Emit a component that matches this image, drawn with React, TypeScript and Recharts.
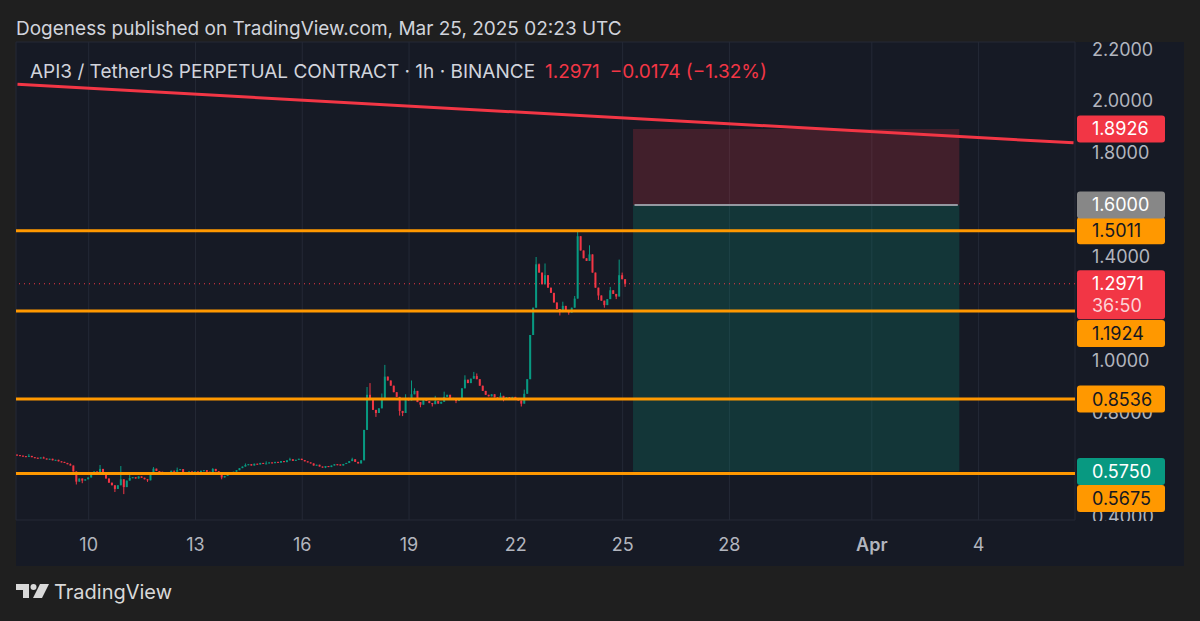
import React from 'react';
import {
  ComposedChart,
  Bar,
  XAxis,
  YAxis,
  CartesianGrid,
  ReferenceLine,
  ReferenceArea,
} from 'recharts';

// 2h candles, API3/USDT perp, Mar 8 00:00 UTC onward (closes per day)
const mar08 = [0.638, 0.636, 0.634, 0.632, 0.635, 0.630, 0.628, 0.626, 0.629, 0.625, 0.622, 0.624];
const mar09 = [0.618, 0.620, 0.614, 0.612, 0.608, 0.603, 0.598, 0.575, 0.536, 0.548, 0.540, 0.545];
const mar10 = [0.552, 0.566, 0.575, 0.568, 0.585, 0.572, 0.548, 0.532, 0.522, 0.508, 0.522, 0.545];
const mar11 = [0.515, 0.540, 0.550, 0.553, 0.548, 0.556, 0.551, 0.545, 0.541, 0.566, 0.586, 0.577];
const mar12 = [0.574, 0.570, 0.566, 0.572, 0.578, 0.574, 0.580, 0.584, 0.572, 0.569, 0.575, 0.571];
const mar13 = [0.575, 0.572, 0.578, 0.580, 0.574, 0.570, 0.585, 0.576, 0.565, 0.552, 0.558, 0.562];
const mar14 = [0.568, 0.574, 0.580, 0.588, 0.594, 0.600, 0.603, 0.598, 0.605, 0.602, 0.608, 0.604];
const mar15 = [0.606, 0.610, 0.607, 0.612, 0.609, 0.615, 0.611, 0.618, 0.622, 0.616, 0.620, 0.624];
const mar16 = [0.619, 0.614, 0.610, 0.606, 0.598, 0.601, 0.594, 0.590, 0.596, 0.592, 0.598, 0.603];
const mar17 = [0.602, 0.598, 0.604, 0.608, 0.615, 0.622, 0.612, 0.606, 0.618, 0.735, 0.870, 0.850];
const mar18 = [0.812, 0.800, 0.818, 0.850, 0.940, 0.925, 0.905, 0.880, 0.862, 0.808, 0.800, 0.858];
const mar19 = [0.848, 0.872, 0.885, 0.842, 0.832, 0.852, 0.846, 0.838, 0.834, 0.846, 0.836, 0.843];
const mar20 = [0.862, 0.870, 0.858, 0.852, 0.846, 0.852, 0.895, 0.928, 0.915, 0.932, 0.942, 0.930];
const mar21 = [0.905, 0.885, 0.870, 0.864, 0.872, 0.860, 0.857, 0.866, 0.855, 0.861, 0.852, 0.862];
const mar22 = [0.856, 0.848, 0.836, 0.874, 0.930, 1.100, 1.205, 1.372, 1.340, 1.295, 1.330, 1.282];
const mar23 = [1.262, 1.225, 1.200, 1.188, 1.212, 1.195, 1.186, 1.205, 1.240, 1.480, 1.425, 1.395];
const mar24 = [1.385, 1.410, 1.340, 1.282, 1.252, 1.232, 1.215, 1.238, 1.272, 1.258, 1.248, 1.330];
const mar25 = [1.3145, 1.2971];

const firstOpen = 0.640;

// [slot, price] wick extremes
const wickHighs: [number, number][] = [
  [4, 0.642], [9, 0.632], [18, 0.606], [28, 0.600], [35, 0.596], [38, 0.562], [46, 0.592],
  [54, 0.590], [66, 0.588], [77, 0.606], [84, 0.614], [92, 0.628], [100, 0.606], [113, 0.628],
  [118, 0.900], [119, 0.915], [123, 0.875], [124, 0.985], [127, 0.905], [131, 0.872],
  [133, 0.925], [134, 0.895], [141, 0.866], [144, 0.882], [151, 0.945], [154, 0.958],
  [155, 0.952], [163, 0.878], [171, 0.890], [175, 1.400], [176, 1.375], [178, 1.375],
  [184, 1.228], [188, 1.250], [189, 1.500], [190, 1.460], [193, 1.445], [200, 1.285],
  [203, 1.390], [204, 1.340],
];
const wickLows: [number, number][] = [
  [20, 0.525], [22, 0.530], [33, 0.496], [36, 0.488], [44, 0.535], [69, 0.545], [104, 0.588],
  [121, 0.785], [129, 0.790], [130, 0.788], [136, 0.822], [140, 0.825], [148, 0.838],
  [164, 0.845], [170, 0.825], [183, 1.175], [186, 1.178], [187, 1.190], [196, 1.235],
  [198, 1.205], [202, 1.238], [205, 1.285],
];

const orangeLevels = [1.5011, 1.1924, 0.8536, 0.5675];
const lastPrice = 1.2971;
const countdown = '36:50';
const stopPrice = 1.8926;
const entryPrice = 1.6;
const targetPrice = 0.575;
const trendStart = 2.064;
const trendEnd = 1.839;
const positionSlots = [208, 317];

const priceTicks = [0.4, 0.6, 0.8, 1.0, 1.2, 1.4, 1.6, 1.8, 2.0, 2.2];
// tick labels that the price tags fully cover
const coveredTicks = [0.6, 1.2, 1.6];
const tickSlots = [24, 60, 96, 132, 168, 204, 240, 288, 324];
const dateLabels = ['10', '13', '16', '19', '22', '25', '28', 'Apr', '4'];
const TOTAL_SLOTS = 357;

// layout / colours
const W = 1200;
const H = 621;
const PLOT_TOP = 42;
const PLOT_RIGHT = 1075;
const PLOT_BOTTOM = 520;
const BG = '#1f1f1f';
const PANEL_BG = '#161a25';
const GRID = '#242936';
const TEXT = '#d1d4dc';
const AXIS_TEXT = '#b2b5be';
const UP = '#089981';
const DOWN = '#f23645';
const ORANGE = '#ff9800';
const FONT = 'Inter, "Noto Sans", sans-serif';
const AXIS_FONT = 18;

const closes = [
  ...mar08, ...mar09, ...mar10, ...mar11, ...mar12, ...mar13, ...mar14, ...mar15, ...mar16,
  ...mar17, ...mar18, ...mar19, ...mar20, ...mar21, ...mar22, ...mar23, ...mar24, ...mar25,
];
const highMap = new Map(wickHighs);
const lowMap = new Map(wickLows);

const rows = Array.from({ length: TOTAL_SLOTS }, (_, slot) => {
  if (slot >= closes.length) return { slot };
  const open = slot === 0 ? firstOpen : closes[slot - 1];
  const close = closes[slot];
  const high = Math.max(open, close, highMap.get(slot) ?? -Infinity);
  const low = Math.min(open, close, lowMap.get(slot) ?? Infinity);
  return { slot, open, close, high, low, range: [low, high] };
});

const Candle = (props: any) => {
  const { x, y, width, height, payload } = props;
  if (!payload || payload.open == null) return null;
  const { open, close, high, low } = payload;
  const color = close >= open ? UP : DOWN;
  const top = Math.min(y, y + height);
  const h = Math.abs(height);
  const k = high - low > 0 ? h / (high - low) : 0;
  const bodyTop = top + (high - Math.max(open, close)) * k;
  const bodyH = Math.max(1, Math.abs(open - close) * k);
  const cx = x + width / 2;
  return (
    <g>
      <line x1={cx} x2={cx} y1={top} y2={top + Math.max(h, 1)} stroke={color} strokeWidth={1} />
      <rect x={x} y={bodyTop} width={width} height={bodyH} fill={color} />
    </g>
  );
};

const DateTick = ({ x, payload }: any) => {
  const label = dateLabels[tickSlots.indexOf(payload.value)];
  return (
    <text
      x={x}
      y={PLOT_BOTTOM + 31}
      textAnchor="middle"
      fill={AXIS_TEXT}
      fontSize={AXIS_FONT}
      fontFamily={FONT}
      fontWeight={label === 'Apr' ? 600 : 400}
    >
      {label}
    </text>
  );
};

// price-scale tick text, drawn in the reference-line layer so tags can cover it;
// clipped to the price pane like TradingView does
const priceText = (text: string) => (props: any) => {
  const vb = props.viewBox;
  if (!vb) return null;
  return (
    <svg x={PLOT_RIGHT} y={PLOT_TOP} width={109} height={PLOT_BOTTOM - PLOT_TOP + 1} overflow="hidden">
      <text x={17} y={vb.y - PLOT_TOP} dy={6.5} fill={AXIS_TEXT} fontSize={AXIS_FONT} fontFamily={FONT}>
        {text}
      </text>
    </svg>
  );
};

const tag = (text: string, bg: string, fg: string, shift = 0, sub?: string) => (props: any) => {
  const vb = props.viewBox;
  if (!vb) return null;
  const cy = vb.y + shift;
  return (
    <g>
      <rect x={PLOT_RIGHT + 2} y={cy - 13.5} width={88} height={sub ? 49 : 27} rx={3} fill={bg} />
      <text x={PLOT_RIGHT + 17} y={cy} dy={6.5} fill={fg} fontSize={AXIS_FONT} fontFamily={FONT}>
        {text}
      </text>
      {sub && (
        <text x={PLOT_RIGHT + 17} y={cy + 22} dy={6.5} fill="#fcd2d6" fontSize={AXIS_FONT} fontFamily={FONT}>
          {sub}
        </text>
      )}
    </g>
  );
};

const orangeShift: Record<number, number> = { 1.1924: 22.5, 0.5675: 25 };

export default function App() {
  return (
    <div style={{ position: 'absolute', left: 0, top: 0, width: W, height: H, background: BG, fontFamily: FONT }}>
      <div
        style={{
          position: 'absolute',
          left: 16,
          top: 42,
          width: 1168,
          height: 524,
          background: PANEL_BG,
        }}
      />
      <div style={{ position: 'absolute', left: 0, top: 0 }}>
        <ComposedChart
          width={W}
          height={H}
          data={rows}
          margin={{ top: PLOT_TOP, right: 16, bottom: 55, left: 16 }}
          barSize={2}
        >
          <CartesianGrid stroke={GRID} strokeWidth={1} />
          <XAxis
            dataKey="slot"
            type="category"
            ticks={tickSlots}
            interval={0}
            height={46}
            axisLine={false}
            tickLine={false}
            tick={<DateTick />}
          />
          <YAxis
            orientation="right"
            type="number"
            domain={[0.38846, 2.2269]}
            ticks={priceTicks}
            allowDataOverflow
            width={109}
            axisLine={false}
            tickLine={false}
            tick={false}
          />
          <ReferenceArea
            x1={positionSlots[0]}
            x2={positionSlots[1]}
            y1={entryPrice}
            y2={stopPrice}
            fill={DOWN}
            fillOpacity={0.2}
            stroke="none"
          />
          <ReferenceArea
            x1={positionSlots[0]}
            x2={positionSlots[1]}
            y1={targetPrice}
            y2={entryPrice}
            fill={UP}
            fillOpacity={0.22}
            stroke="none"
          />
          <Bar dataKey="range" shape={<Candle />} isAnimationActive={false} />
          <ReferenceLine
            segment={[
              { x: positionSlots[0], y: entryPrice },
              { x: positionSlots[1], y: entryPrice },
            ]}
            stroke="#9598a1"
            strokeWidth={2}
          />
          <ReferenceLine
            segment={[
              { x: 0, y: trendStart },
              { x: TOTAL_SLOTS - 1, y: trendEnd },
            ]}
            stroke={DOWN}
            strokeWidth={3}
          />
          <ReferenceLine y={lastPrice} stroke={DOWN} strokeWidth={1} strokeDasharray="1 4" />
          {priceTicks
            .filter((v) => !coveredTicks.includes(v))
            .map((v) => (
              <ReferenceLine key={`t${v}`} y={v} stroke="none" label={priceText(v.toFixed(4))} />
            ))}
          {orangeLevels.map((v) => (
            <ReferenceLine
              key={v}
              y={v}
              stroke={ORANGE}
              strokeWidth={3}
              label={tag(v.toFixed(4), ORANGE, '#131722', orangeShift[v] ?? 0)}
            />
          ))}
          <ReferenceLine y={stopPrice} stroke="none" label={tag(stopPrice.toFixed(4), DOWN, '#ffffff')} />
          <ReferenceLine y={entryPrice} stroke="none" label={tag(entryPrice.toFixed(4), '#878787', '#ffffff')} />
          <ReferenceLine y={targetPrice} stroke="none" label={tag(targetPrice.toFixed(4), UP, '#ffffff')} />
          <ReferenceLine y={lastPrice} stroke="none" label={tag(lastPrice.toFixed(4), DOWN, '#ffffff', 0, countdown)} />
        </ComposedChart>
      </div>
      <svg
        width={W}
        height={H}
        style={{ position: 'absolute', left: 0, top: 0, pointerEvents: 'none' }}
      >
        <text x={16} y={35} fill={TEXT} fontSize={19} fontFamily={FONT}>
          Dogeness published on TradingView.com, Mar 25, 2025 02:23 UTC
        </text>
        <text x={30} y={78} fill={TEXT} fontSize={19} fontFamily={FONT}>
          API3 / TetherUS PERPETUAL CONTRACT · 1h · BINANCE
          <tspan fill={DOWN} dx={10}>1.2971</tspan>
          <tspan fill={DOWN} dx={10}>−0.0174 (−1.32%)</tspan>
        </text>
        <g transform="translate(16,584)" fill="#d9d9d9">
          <path d="M0 0 H13 V14 H7 V6 H0 Z" />
          <circle cx={17.5} cy={3} r={3} />
          <path d="M24 0 H33 L26 14 H17 Z" />
        </g>
        <text x={54} y={599} fill="#d9d9d9" fontSize={20} fontFamily={FONT}>
          TradingView
        </text>
      </svg>
    </div>
  );
}
